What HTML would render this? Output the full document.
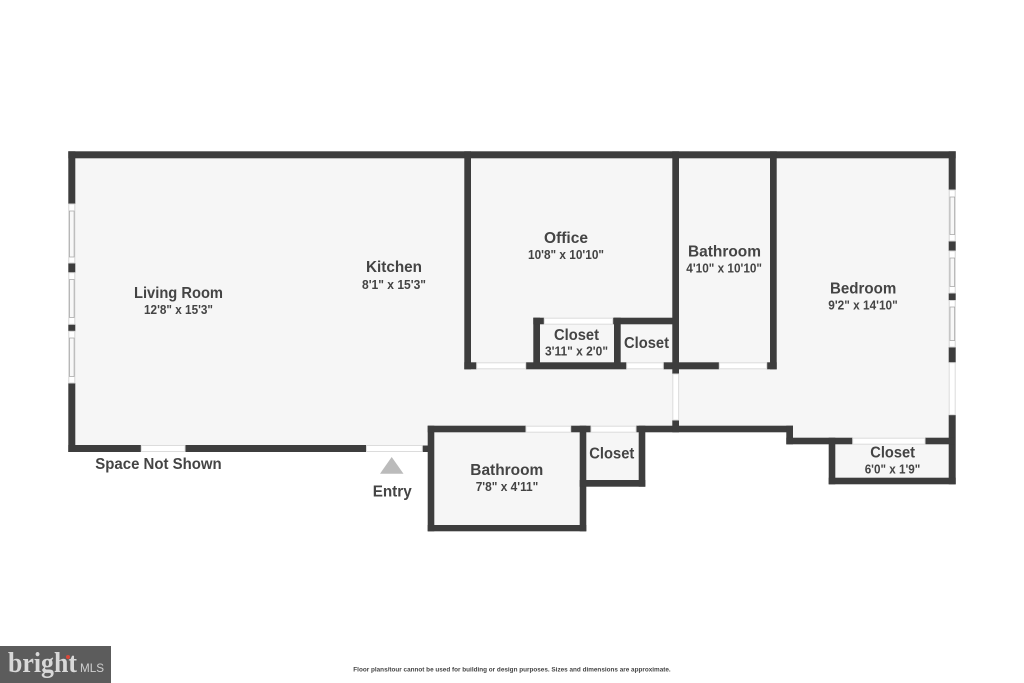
<!DOCTYPE html>
<html>
<head>
<meta charset="utf-8">
<style>
html,body{margin:0;padding:0;background:#fff}
svg{display:block}
text{font-family:"Liberation Sans",sans-serif;font-weight:700;fill:#444}
.n{font-size:15.5px}
.d{font-size:13px}
</style>
</head>
<body>
<svg width="1024" height="683" viewBox="0 0 1024 683" xmlns="http://www.w3.org/2000/svg">
<rect width="1024" height="683" fill="#fff"/>
<!-- floors -->
<g fill="#f6f6f6">
<rect x="72" y="155" width="880" height="275"/>
<rect x="72" y="430" width="358" height="19"/>
<rect x="790" y="430" width="162" height="11"/>
<rect x="430" y="430" width="153" height="98"/>
<rect x="583" y="430" width="59" height="53"/>
<rect x="832" y="441" width="120" height="40"/>
</g>
<!-- walls -->
<g fill="#3d3d3d">
<rect x="68.3" y="151.3" width="887.4" height="7"/>
<rect x="68.3" y="151.3" width="7" height="52.7"/>
<rect x="68.3" y="263" width="7" height="9.7"/>
<rect x="68.3" y="324.3" width="7" height="7"/>
<rect x="68.3" y="383" width="7" height="69"/>
<rect x="68.3" y="445" width="73" height="7"/>
<rect x="185" y="445" width="181" height="7"/>
<rect x="422.3" y="445.5" width="8" height="6.5"/>
<!-- bathroom lower -->
<rect x="427.7" y="425.7" width="6.6" height="105.6"/>
<rect x="427.7" y="525" width="158.6" height="6.3"/>
<rect x="579.7" y="425.7" width="6.6" height="105.6"/>
<rect x="427.7" y="425.7" width="98.3" height="6.6"/>
<rect x="570.7" y="425.7" width="20.3" height="6.6"/>
<rect x="636" y="425.7" width="157" height="6.6"/>
<rect x="638.7" y="425.7" width="6.6" height="61"/>
<rect x="579.7" y="480" width="65.6" height="6.7"/>
<!-- office -->
<rect x="464.3" y="151.3" width="6.7" height="218"/>
<rect x="464.3" y="362.3" width="12.4" height="7"/>
<rect x="525.7" y="362.3" width="101" height="7"/>
<rect x="663.3" y="362.3" width="56" height="7"/>
<rect x="766.7" y="362.3" width="10" height="7"/>
<rect x="533.3" y="317.7" width="6.7" height="50"/>
<rect x="533.3" y="317.7" width="11" height="6.6"/>
<rect x="612.7" y="317.7" width="60" height="6.6"/>
<rect x="614" y="317.7" width="6.7" height="50"/>
<rect x="672.3" y="151.3" width="6.7" height="222.7"/>
<rect x="672.3" y="420" width="6.7" height="12.3"/>
<rect x="770" y="151.3" width="6.7" height="218"/>
<!-- right side -->
<rect x="948.7" y="151.3" width="7" height="38.7"/>
<rect x="948.7" y="241" width="7" height="10"/>
<rect x="948.7" y="293" width="7" height="7.5"/>
<rect x="948.7" y="347" width="7" height="15.7"/>
<rect x="948.7" y="414.7" width="7" height="69.6"/>
<rect x="786.3" y="425.7" width="6.7" height="18.6"/>
<rect x="786.3" y="437.7" width="66.4" height="6.6"/>
<rect x="925" y="437.7" width="30" height="6.6"/>
<rect x="828.7" y="437.7" width="6.6" height="46.6"/>
<rect x="828.7" y="477.7" width="127" height="6.6"/>
</g>
<!-- openings -->
<g fill="#fff" stroke="#dcdcdc" stroke-width="1">
<rect x="141.3" y="445.5" width="43.7" height="6"/>
<rect x="366.5" y="445.5" width="55.8" height="6"/>
<rect x="476.7" y="362.8" width="49" height="6"/>
<rect x="626.7" y="362.8" width="36.6" height="6"/>
<rect x="719.3" y="362.8" width="47.4" height="6"/>
<rect x="544.3" y="318.2" width="68.4" height="6"/>
<rect x="526" y="426.2" width="44.7" height="6"/>
<rect x="591" y="426.2" width="45" height="6"/>
<rect x="852.7" y="438.2" width="72.3" height="6"/>
<rect x="672.8" y="374" width="5.8" height="46"/>
<rect x="949.2" y="362.7" width="6" height="52"/>
</g>
<!-- windows -->
<g fill="#fff" stroke="#d4d4d4" stroke-width="1">
<rect x="68.8" y="204" width="6" height="59"/>
<rect x="68.8" y="272.7" width="6" height="51.6"/>
<rect x="68.8" y="331.3" width="6" height="51.7"/>
<rect x="949.2" y="190" width="6" height="51"/>
<rect x="949.2" y="251" width="6" height="42"/>
<rect x="949.2" y="300.5" width="6" height="46.5"/>
</g>
<g fill="#f8f8f8" stroke="#a0a0a0" stroke-width="0.7">
<rect x="69.5" y="211" width="4.6" height="46"/>
<rect x="69.5" y="279.5" width="4.6" height="38"/>
<rect x="69.5" y="338" width="4.6" height="38.5"/>
<rect x="950" y="197" width="4.6" height="37.5"/>
<rect x="950" y="258" width="4.6" height="28.5"/>
<rect x="950" y="307" width="4.6" height="33.5"/>
</g>
<!-- entry arrow -->
<polygon points="391.7,457 403.5,473.7 380,473.7" fill="#bbb"/>
<!-- labels -->
<text class="n" x="134" y="298" textLength="89" lengthAdjust="spacingAndGlyphs">Living Room</text>
<text class="d" x="144" y="314" textLength="69" lengthAdjust="spacingAndGlyphs">12'8" x 15'3"</text>
<text class="n" x="366" y="272" textLength="56" lengthAdjust="spacingAndGlyphs">Kitchen</text>
<text class="d" x="362" y="289" textLength="64" lengthAdjust="spacingAndGlyphs">8'1" x 15'3"</text>
<text class="n" x="544" y="243" textLength="44" lengthAdjust="spacingAndGlyphs">Office</text>
<text class="d" x="528" y="259" textLength="76" lengthAdjust="spacingAndGlyphs">10'8" x 10'10"</text>
<text class="n" x="554" y="340" textLength="45" lengthAdjust="spacingAndGlyphs">Closet</text>
<text class="d" x="545" y="355.7" textLength="63" lengthAdjust="spacingAndGlyphs">3'11" x 2'0"</text>
<text class="n" x="624" y="348" textLength="45" lengthAdjust="spacingAndGlyphs">Closet</text>
<text class="n" x="589.3" y="458.7" textLength="45" lengthAdjust="spacingAndGlyphs">Closet</text>
<text class="n" x="470.3" y="475" textLength="73" lengthAdjust="spacingAndGlyphs">Bathroom</text>
<text class="d" x="475.7" y="491" textLength="62.6" lengthAdjust="spacingAndGlyphs">7'8" x 4'11"</text>
<text class="n" x="372.7" y="496.5" textLength="39" lengthAdjust="spacingAndGlyphs">Entry</text>
<text class="n" x="95.3" y="469" textLength="126.4" lengthAdjust="spacingAndGlyphs">Space Not Shown</text>
<text class="n" x="688" y="256.7" textLength="73" lengthAdjust="spacingAndGlyphs">Bathroom</text>
<text class="d" x="686.3" y="272.7" textLength="75.7" lengthAdjust="spacingAndGlyphs">4'10" x 10'10"</text>
<text class="n" x="830" y="293.7" textLength="66.3" lengthAdjust="spacingAndGlyphs">Bedroom</text>
<text class="d" x="828.3" y="309.7" textLength="69.4" lengthAdjust="spacingAndGlyphs">9'2" x 14'10"</text>
<text class="n" x="870.3" y="457.7" textLength="44.7" lengthAdjust="spacingAndGlyphs">Closet</text>
<text class="d" x="864.7" y="473.3" textLength="55.6" lengthAdjust="spacingAndGlyphs">6'0" x 1'9"</text>
<text x="353.3" y="671.5" font-size="6.5" textLength="317.4" lengthAdjust="spacingAndGlyphs">Floor plans/tour cannot be used for building or design purposes. Sizes and dimensions are approximate.</text>
<!-- logo -->
<rect x="0" y="646" width="111" height="37" fill="#5c5c5c"/>
<text x="8" y="672" font-size="29" textLength="69" lengthAdjust="spacingAndGlyphs" style="font-family:'Liberation Serif',serif;font-weight:700;fill:#d8d8d8">bright</text>
<circle cx="68" cy="657" r="2" fill="#d8483a"/>
<text x="80" y="672" font-size="12" textLength="24" lengthAdjust="spacingAndGlyphs" style="font-weight:400;fill:#d0d0d0">MLS</text>
</svg>
</body>
</html>
